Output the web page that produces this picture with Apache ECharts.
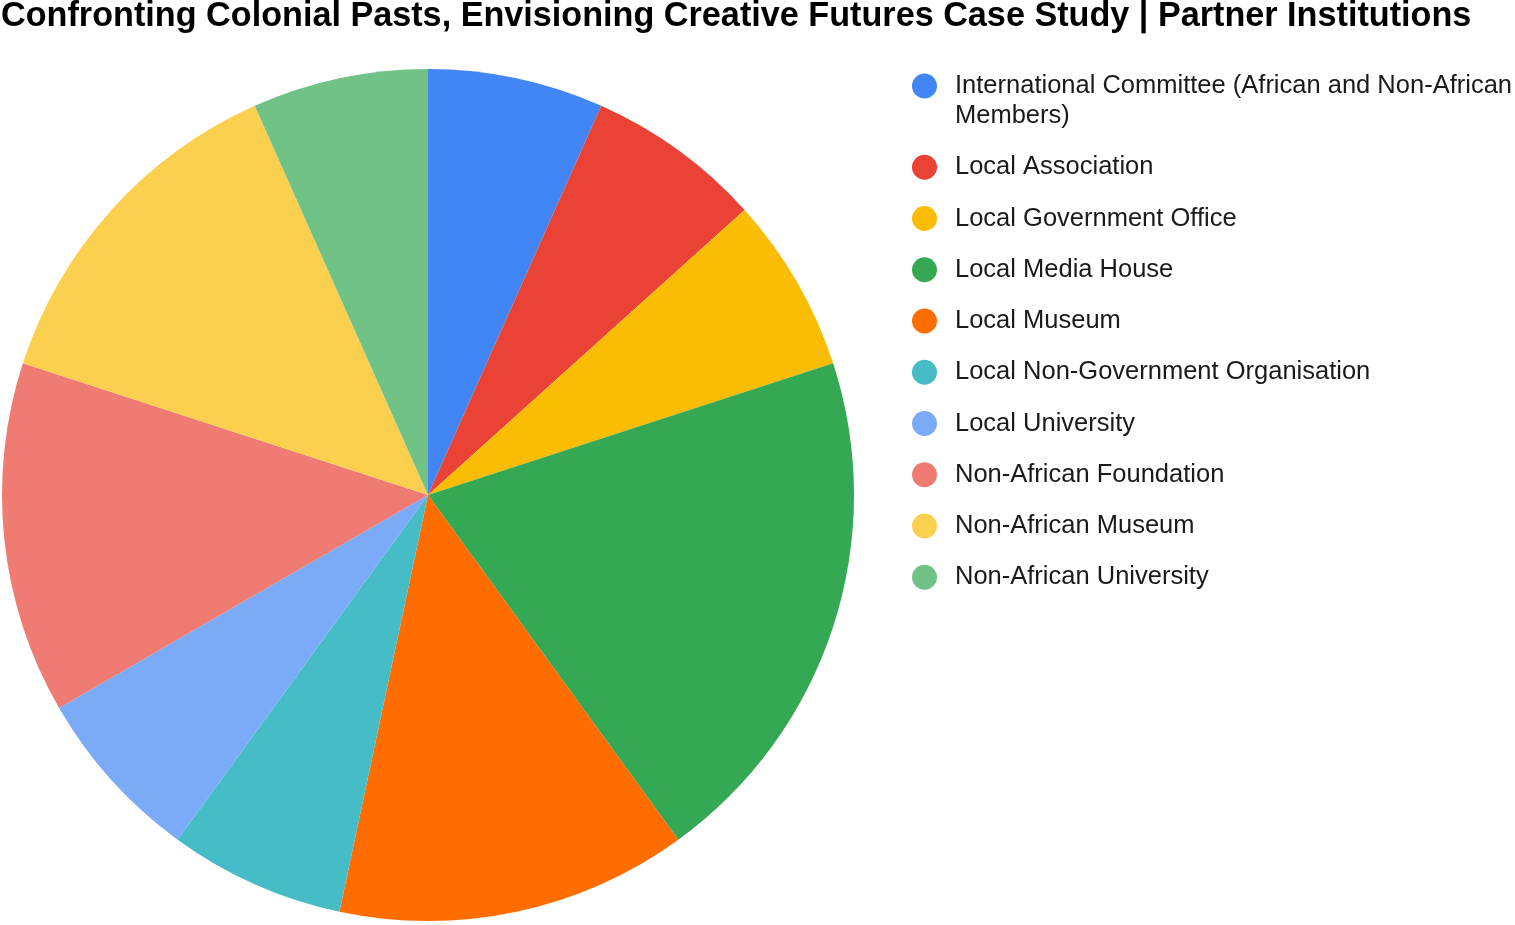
<!DOCTYPE html>
<html>
<head>
<meta charset="utf-8">
<script src="https://cdn.jsdelivr.net/npm/echarts@6/dist/echarts.min.js"></script>
<style>
  html, body { margin: 0; padding: 0; background: #fff; }
  #chart { width: 1515px; height: 925px; }
</style>
</head>
<body>
<div id="chart"></div>
<script>
// partner institutions, count per type
var names = [
    'International Committee (African and Non-African\nMembers)',
    'Local Association',
    'Local Government Office',
    'Local Media House',
    'Local Museum',
    'Local Non-Government Organisation',
    'Local University',
    'Non-African Foundation',
    'Non-African Museum',
    'Non-African University'
];
var counts = [1, 1, 1, 3, 2, 1, 1, 2, 2, 1];
var colors = ['#4285F4', '#EA4335', '#FBBC04', '#34A853', '#FF6D01',
              '#46BDC6', '#7BAAF7', '#F07B72', '#FCD04F', '#71C287'];

var pieData = names.map(function (n, i) {
    return {name: n, value: counts[i], itemStyle: {color: colors[i]}};
});

var option = {
    backgroundColor: '#fff',
    animation: false,
    title: {
        text: 'Confronting Colonial Pasts, Envisioning Creative Futures Case Study | Partner Institutions',
        left: 1,
        top: 0,
        padding: 0,
        textStyle: {
            fontFamily: 'Liberation Sans',
            fontWeight: 'bold',
            fontSize: 34.2,
            color: '#000'
        }
    },
    legend: {
        orient: 'vertical',
        left: 912,
        top: 41,
        padding: 0,
        itemGap: 21.25,
        itemWidth: 25,
        itemHeight: 25,
        icon: 'circle',
        selectedMode: false,
        data: names,
        // the wrapped first entry gets an empty line on top so the dot sits on line one
        formatter: function (name) {
            return name.indexOf('\n') >= 0 ? '\n' + name : name;
        },
        textStyle: {
            fontFamily: 'Liberation Sans',
            fontSize: 25.5,
            lineHeight: 30,
            color: '#1a1a1a',
            padding: [0, 0, 0, 13]
        }
    },
    series: [
        {
            name: 'Partner Institutions',
            type: 'pie',
            center: [428, 495],
            radius: [0, 426],
            startAngle: 90,
            clockwise: true,
            label: {show: false},
            labelLine: {show: false},
            emphasis: {disabled: true},
            data: pieData
        }
    ]
};

window.onload = function () {
    var myChart = echarts.init(document.getElementById('chart'));
    myChart.setOption(option);
};
</script>
</body>
</html>
